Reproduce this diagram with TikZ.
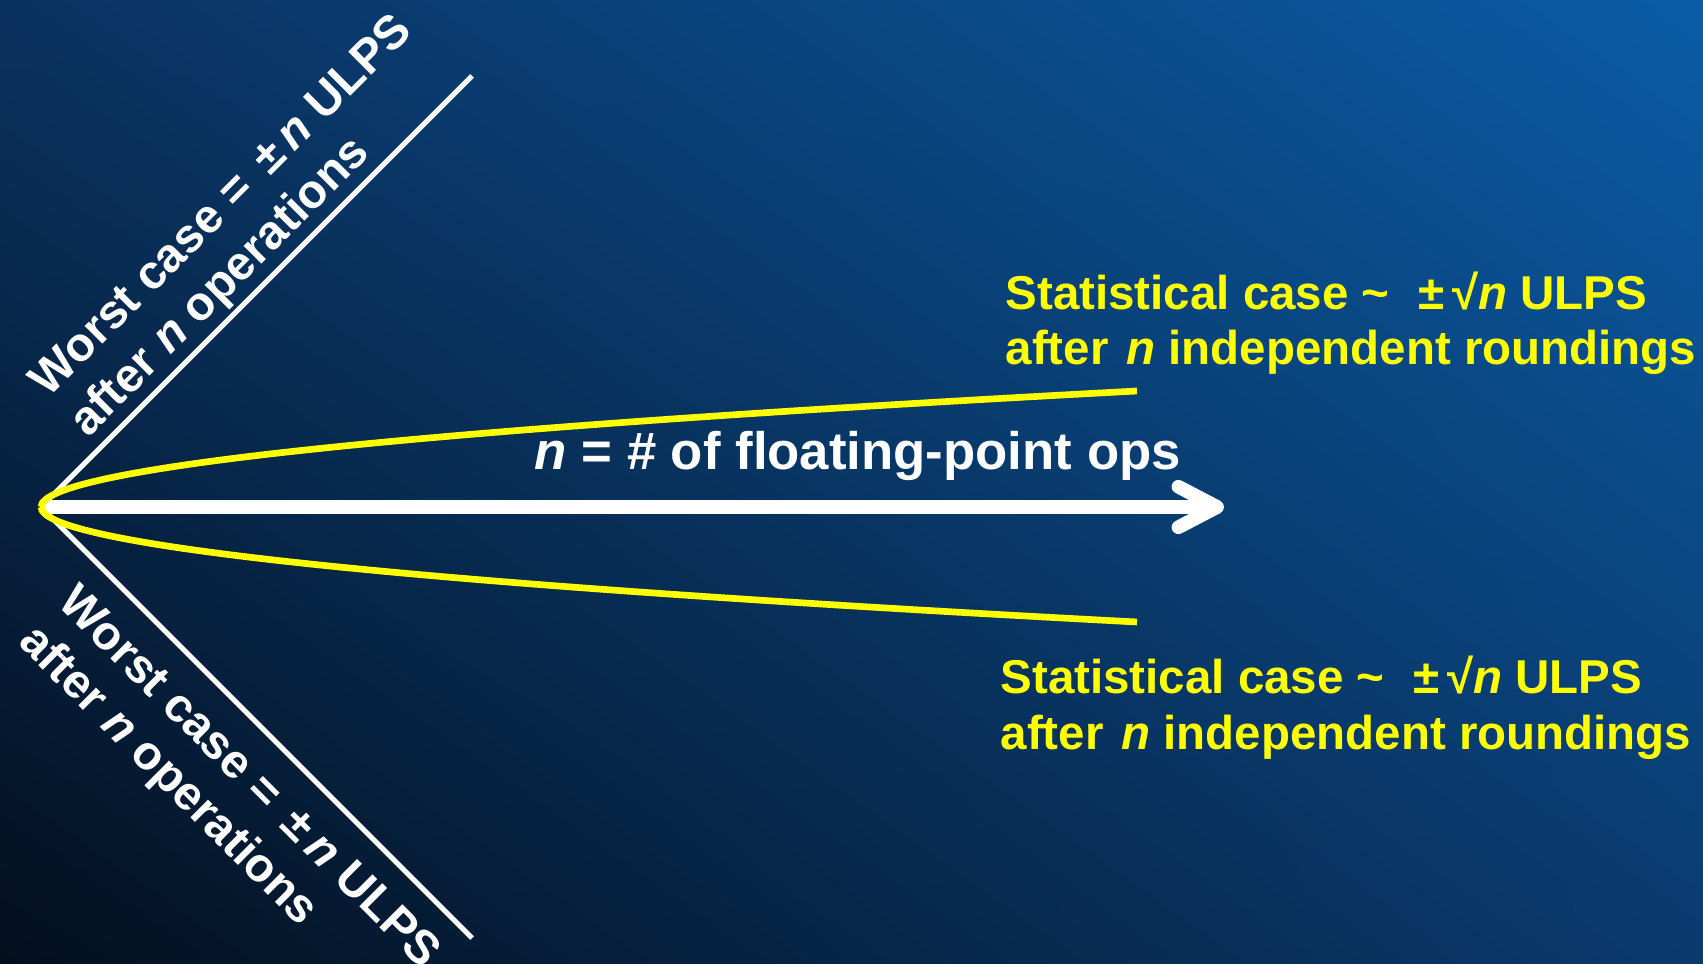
\documentclass[tikz,border=0pt]{standalone}
\usepackage{fontspec}
\setmainfont{Liberation Sans}
\usetikzlibrary{arrows.meta,shadings}
\definecolor{bgtl}{RGB}{10,50,96}
\definecolor{bgtr}{RGB}{10,92,166}
\definecolor{bgbl}{RGB}{3,15,30}
\definecolor{bgbr}{RGB}{10,58,110}
\definecolor{stayellow}{RGB}{255,255,0}
\newcommand{\slidefont}{\fontsize{13.5}{15.9}\selectfont\bfseries}
\newcommand{\axisfont}{\fontsize{15}{17}\selectfont\bfseries}

\begin{document}
\begin{tikzpicture}[x=0.01cm,y=-0.01cm,
    bound/.style={white,line width=1.5pt},
    sqrtcurve/.style={stayellow,line width=1.9pt},
    nline/.style={white,line width=3.9pt,-{Straight Barb[length=11pt,width=11.5pt,round]}},
    worstlbl/.style={text=white,font=\slidefont,inner sep=0pt,align=left},
    statlbl/.style={text=stayellow,font=\slidefont,inner sep=0pt,align=left}]
  \shade[upper left=bgtl,upper right=bgtr,lower left=bgbl,lower right=bgbr] (0,0) rectangle (1703,964);
  \useasboundingbox (0,0) rectangle (1703,964);
  % error growth
  \coordinate (O) at (41,507);
  \coordinate (tip) at (1224,507);
  \coordinate (wu) at (472,76);
  \coordinate (wl) at (472,938);
  \coordinate (su) at (1137,391);
  \coordinate (sl) at (1137,622);
  \draw[bound] (O) -- (wu);
  \draw[bound] (O) -- (wl);
  \draw[nline] (O) -- (tip);
  \draw[sqrtcurve] (O) .. controls +(0,-38.7) and +(-730.7,38.7) .. (su);
  \draw[sqrtcurve] (O) .. controls +(0,38.3) and +(-730.7,-38.3) .. (sl);
  \node[text=white,font=\axisfont,inner sep=0pt,anchor=base west] (nlbl) at (534,470) {\textit{n} = \# of floating-point ops};
  \node[worstlbl,rotate=45,anchor=south west] (worstup) at (95,446) {Worst case = \,±\,\textit{n} ULPS\\after \textit{n} operations};
  \node[worstlbl,rotate=-45,anchor=north west] (worstlow) at (80,580) {Worst case = \,±\,\textit{n} ULPS\\after \textit{n} operations};
  \node[statlbl,anchor=base west] (statup) at (1005,365) {Statistical case \textasciitilde\hspace{0.6em}±\,√\textit{n} ULPS\\after \hspace{0.1em}\textit{n} independent roundings};
  \node[statlbl,anchor=base west] (statlow) at (1000,749) {Statistical case \textasciitilde\hspace{0.6em}±\,√\textit{n} ULPS\\after \hspace{0.1em}\textit{n} independent roundings};
\end{tikzpicture}
\end{document}
